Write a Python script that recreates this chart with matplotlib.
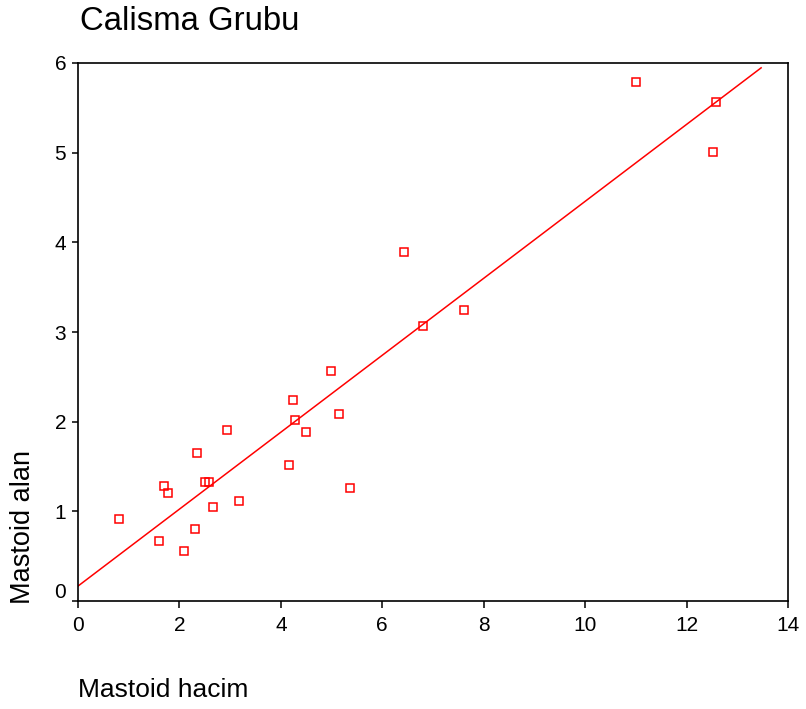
"""Scatter of mastoid area vs volume with linear fit (Calisma Grubu)."""

import numpy as np
import matplotlib
matplotlib.use("Agg")
import matplotlib.pyplot as plt
from matplotlib.transforms import ScaledTranslation

plt.rcParams["font.family"] = ["Liberation Sans", "DejaVu Sans"]

# data
mastoid_hacim = [11.00, 12.59, 12.52, 6.42, 6.80, 7.62, 4.98, 4.24, 4.27, 5.15,
                 4.49, 2.93, 2.34, 4.17, 5.36, 1.70, 1.77, 2.51, 2.59, 3.18,
                 2.66, 2.30, 1.60, 2.09, 0.81]
mastoid_alan = [5.79, 5.57, 5.01, 3.89, 3.07, 3.24, 2.57, 2.24, 2.02, 2.09,
                1.89, 1.91, 1.65, 1.52, 1.26, 1.28, 1.20, 1.33, 1.33, 1.11,
                1.05, 0.80, 0.67, 0.56, 0.92]
fit_range = [0.0, 13.47]
x_ticks = [0, 2, 4, 6, 8, 10, 12, 14]
y_ticks = [0, 1, 2, 3, 4, 5, 6]

W, H = 806, 709
fig = plt.figure(figsize=(W / 100, H / 100), dpi=100)
ax = fig.add_axes([78 / W, 1 - 601 / H, (788 - 78) / W, (601 - 63) / H])

ax.plot(mastoid_hacim, mastoid_alan, linestyle="none", marker="s",
        markersize=6.2, markerfacecolor="none", markeredgecolor="#ff0000",
        markeredgewidth=1.1, zorder=3)

# least squares line through the points
slope, intercept = np.polyfit(mastoid_hacim, mastoid_alan, 1)
lx = np.array(fit_range)
ax.plot(lx, intercept + slope * lx, color="#ff0000", linewidth=1.1, zorder=2)

ax.set_xlim(0, 14)
ax.set_ylim(0, 6)
ax.set_xticks(x_ticks)
ax.set_yticks(y_ticks)
ax.tick_params(direction="out", width=1.1, labelsize=15, top=False, right=False)
ax.tick_params(axis="x", length=5, pad=5.5)
ax.tick_params(axis="y", length=4, pad=4.5)
for s in ax.spines.values():
    s.set_linewidth(1.2)

# the "0" on the y axis sits a bit above its tick in the original
fig.canvas.draw()
lab0 = ax.get_yticklabels()[0]
lab0.set_transform(lab0.get_transform() + ScaledTranslation(0, 0.11, fig.dpi_scale_trans))

fig.text(80 / W, 1 - 21 / H, "Calisma Grubu", fontsize=23.7, ha="left", va="center")
fig.text(78 / W, 1 - 690 / H, "Mastoid hacim", fontsize=19, ha="left", va="center")
fig.text(23 / W, 1 - 604 / H, "Mastoid alan", fontsize=19.5, rotation=90,
         ha="center", va="bottom")

fig.savefig("out.png", dpi=100)
plt.close(fig)
